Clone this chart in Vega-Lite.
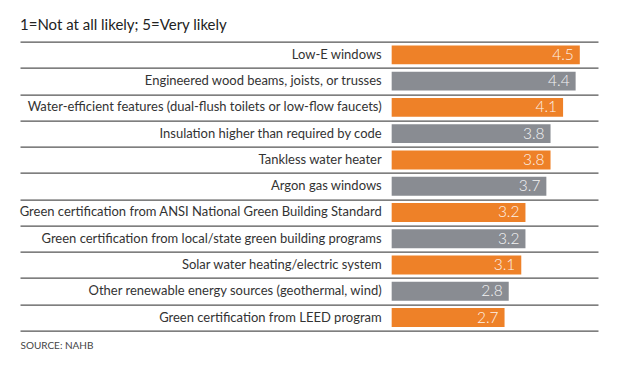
{
  "$schema": "https://vega.github.io/schema/vega-lite/v6.json",
  "width": 578,
  "height": 289,
  "autosize": {"type": "none"},
  "padding": {"left": 20, "top": 41.7, "right": 22, "bottom": 36},
  "background": "white",
  "config": {"view": {"stroke": null}, "font": "Lato"},
  "title": {
    "text": "1=Not at all likely; 5=Very likely",
    "anchor": "start",
    "frame": "group",
    "fontSize": 15,
    "fontWeight": "normal",
    "color": "#222222",
    "baseline": "bottom",
    "offset": -6
  },
  "data": {
    "values": [
      {"item": "Low-E windows", "score": 4.5, "group": "A"},
      {"item": "Engineered wood beams, joists, or trusses", "score": 4.4, "group": "B"},
      {"item": "Water-efficient features (dual-flush toilets or low-flow faucets)", "score": 4.1, "group": "A"},
      {"item": "Insulation higher than required by code", "score": 3.8, "group": "B"},
      {"item": "Tankless water heater", "score": 3.8, "group": "A"},
      {"item": "Argon gas windows", "score": 3.7, "group": "B"},
      {"item": "Green certification from ANSI National Green Building Standard", "score": 3.2, "group": "A"},
      {"item": "Green certification from local/state green building programs", "score": 3.2, "group": "B"},
      {"item": "Solar water heating/electric system", "score": 3.1, "group": "A"},
      {"item": "Other renewable energy sources (geothermal, wind)", "score": 2.8, "group": "B"},
      {"item": "Green certification from LEED program", "score": 2.7, "group": "A"}
    ]
  },
  "encoding": {
    "y": {
      "field": "item",
      "type": "nominal",
      "sort": null,
      "scale": {"paddingInner": 0, "paddingOuter": 0},
      "axis": {
        "labels": false,
        "ticks": false,
        "domain": false,
        "title": null,
        "grid": true,
        "tickBand": "extent",
        "gridColor": "#555555",
        "gridWidth": 1.3,
        "gridOpacity": 1
      }
    }
  },
  "layer": [
    {
      "mark": {"type": "bar", "height": {"band": 0.72}},
      "encoding": {
        "x": {
          "field": "score",
          "type": "quantitative",
          "scale": {"domain": [-8.89, 4.935], "nice": false, "zero": false},
          "axis": {
            "labels": false,
            "ticks": false,
            "domain": false,
            "grid": false,
            "title": "SOURCE: NAHB",
            "titleX": 0,
            "titleY": 10,
            "titleAlign": "left",
            "titleBaseline": "top",
            "titleFontSize": 10,
            "titleFontWeight": "normal",
            "titleColor": "#444444"
          }
        },
        "x2": {"datum": 0},
        "color": {
          "field": "group",
          "type": "nominal",
          "scale": {"domain": ["A", "B"], "range": ["#EE8128", "#898C92"]},
          "legend": null
        }
      }
    },
    {
      "mark": {"type": "text", "align": "right", "baseline": "middle", "dx": -6, "fontSize": 15.5, "fontWeight": 300, "color": "white", "opacity": 0.9},
      "encoding": {
        "x": {"field": "score", "type": "quantitative"},
        "text": {"field": "score", "type": "quantitative", "format": ".1f"}
      }
    },
    {
      "mark": {"type": "text", "align": "right", "baseline": "middle", "dx": -10, "fontSize": 13, "color": "#333333"},
      "encoding": {
        "x": {"datum": 0},
        "text": {"field": "item"}
      }
    }
  ]
}
